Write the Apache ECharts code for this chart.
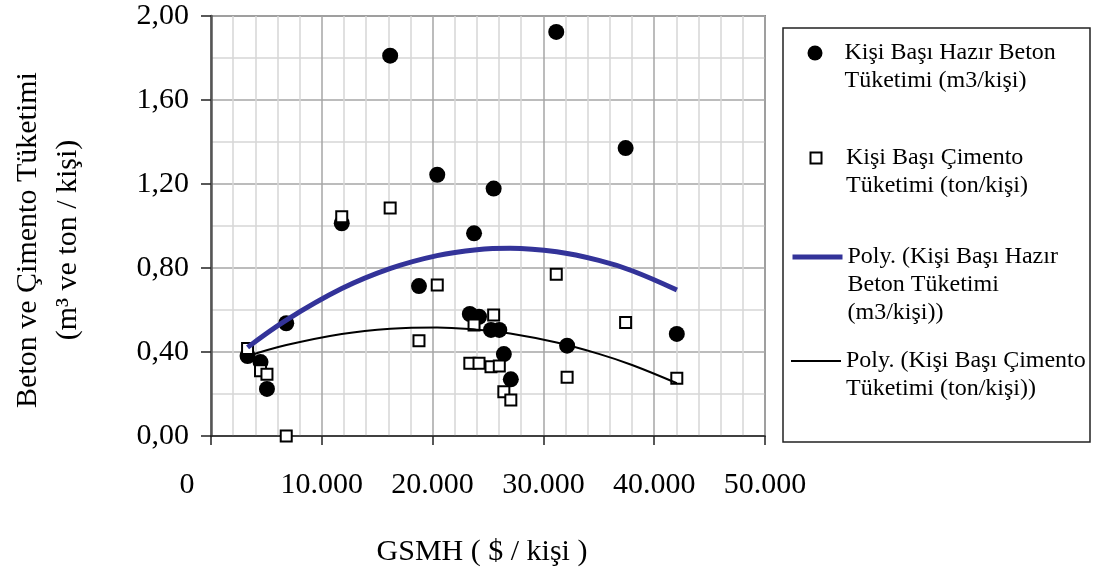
<!DOCTYPE html>
<html>
<head>
<meta charset="utf-8">
<script src="https://cdn.jsdelivr.net/npm/echarts@6/dist/echarts.min.js"></script>
<style>
  html, body { margin: 0; padding: 0; background: #fff; }
  #chart { width: 1094px; height: 572px; }
</style>
</head>
<body>
<div id="chart"></div>
<script>
  // GSMH ($/kişi) of each country
  const gdpPerCapita = [3300, 4470, 5050, 6790, 11800, 16170, 18770, 20420, 23360, 23740, 24190, 25270, 25510, 26020, 26430, 27060, 31160, 32140, 37420, 42040];
  // Hazır beton (m3/kişi)
  const concrete = [0.381, 0.352, 0.224, 0.537, 1.013, 1.811, 0.714, 1.244, 0.581, 0.965, 0.568, 0.505, 1.178, 0.505, 0.39, 0.27, 1.924, 0.43, 1.371, 0.486];
  // Çimento (ton/kişi)
  const cement = [0.417, 0.311, 0.294, 0.0, 1.044, 1.086, 0.454, 0.719, 0.346, 0.529, 0.346, 0.33, 0.576, 0.333, 0.211, 0.171, 0.77, 0.28, 0.54, 0.275];

  // polynomial trend lines
  const trendX = [3300, 6800, 11800, 16200, 20400, 24000, 27000, 31200, 35000, 38000, 42050];
  const concreteTrend = [0.422, 0.552, 0.702, 0.798, 0.859, 0.887, 0.894, 0.877, 0.836, 0.787, 0.695];
  const cementTrend = [0.380, 0.433, 0.486, 0.511, 0.517, 0.506, 0.488, 0.445, 0.391, 0.338, 0.251];

  const names = [
    'Kişi Başı Hazır Beton Tüketimi (m3/kişi)',
    'Kişi Başı Çimento Tüketimi (ton/kişi)',
    'Poly. (Kişi Başı Hazır Beton Tüketimi (m3/kişi))',
    'Poly. (Kişi Başı Çimento Tüketimi (ton/kişi))'
  ];
  const legendLines = [
    'Kişi Başı Hazır Beton\nTüketimi (m3/kişi)',
    'Kişi Başı Çimento\nTüketimi (ton/kişi)',
    'Poly. (Kişi Başı Hazır\nBeton Tüketimi\n(m3/kişi))',
    'Poly. (Kişi Başı Çimento\nTüketimi (ton/kişi))'
  ];

  const font = 'Liberation Serif';
  const zip = (xs, ys) => xs.map((x, i) => [x, ys[i]]);

  // one legend per entry so each can sit where it does in the picture;
  // blank lines on top keep the icon level with the first text line
  function legendFor(i, opts) {
    const lines = legendLines[i].split('\n').length;
    const pad = new Array(lines - 1).fill(' ').join('\n');
    return Object.assign({
      data: [names[i]],
      orient: 'vertical',
      selectedMode: false,
      padding: 0,
      formatter: () => (pad ? pad + '\n' : '') + legendLines[i],
      textStyle: {
        fontFamily: font,
        fontSize: 24,
        lineHeight: 28,
        color: '#000',
        padding: [0, 0, 0, opts.textPad || 0]
      }
    }, opts.base);
  }

  const chart = echarts.init(document.getElementById('chart'));
  const option = {
    backgroundColor: '#fff',
    animation: false,
    textStyle: { fontFamily: font },
    grid: {
      left: 209, right: 329, top: 16, bottom: 136,
      show: true, borderColor: '#8c8c8c', borderWidth: 2
    },
    graphic: [{
      type: 'rect',
      shape: { x: 783, y: 28, width: 307, height: 414 },
      style: { fill: 'none', stroke: '#222', lineWidth: 1.5 },
      silent: true
    }],
    legend: [
      legendFor(0, { base: { left: 807.5, top: 11, itemWidth: 15, itemHeight: 15 }, textPad: 17 }),
      legendFor(1, { base: { left: 809.5, top: 116, itemWidth: 11, itemHeight: 11 }, textPad: 19.5 }),
      legendFor(2, { base: { left: 790, top: 187, itemWidth: 50, itemHeight: 14, itemStyle: { opacity: 0 }, lineStyle: { width: 5 } } }),
      legendFor(3, { base: { left: 790, top: 319, itemWidth: 50, itemHeight: 14, itemStyle: { opacity: 0 }, lineStyle: { width: 2 } } })
    ],
    xAxis: {
      type: 'value',
      min: 0, max: 50000, interval: 10000,
      name: 'GSMH ( $ / kişi )',
      nameLocation: 'middle',
      nameGap: 101,
      nameTextStyle: { fontFamily: font, fontSize: 30, color: '#000', padding: [0, 12, 0, 0] },
      axisLine: { show: true, onZero: false, lineStyle: { color: '#222', width: 1.5 } },
      axisTick: { show: true, length: 9, lineStyle: { color: '#222', width: 1.5 } },
      axisLabel: {
        margin: 34,
        fontFamily: font, fontSize: 30, color: '#000',
        formatter: v => v === 0 ? '{zero|0}' : v.toLocaleString('de-DE'),
        rich: { zero: { fontFamily: font, fontSize: 30, color: '#000', padding: [0, 48, 0, 0] } }
      },
      splitLine: { show: true, lineStyle: { color: '#a6a6a6', width: 1.5 } },
      minorTick: { show: false, splitNumber: 5 },
      minorSplitLine: { show: true, lineStyle: { color: '#d6d6d6', width: 1.5 } }
    },
    yAxis: {
      type: 'value',
      min: 0, max: 2, interval: 0.4,
      name: 'Beton ve Çimento Tüketimi\n(m³ ve ton / kişi)',
      nameLocation: 'middle',
      nameGap: 123,
      nameTextStyle: { fontFamily: font, fontSize: 30, lineHeight: 40, color: '#000', padding: [0, 28, 0, 0] },
      axisLine: { show: true, onZero: false, lineStyle: { color: '#555', width: 2.5 } },
      axisTick: { show: true, length: 10, lineStyle: { color: '#222', width: 1.5 } },
      axisLabel: {
        margin: 22,
        fontFamily: font, fontSize: 30, color: '#000',
        formatter: v => v.toFixed(2).replace('.', ',')
      },
      splitLine: { show: true, lineStyle: { color: '#a6a6a6', width: 1.5 } },
      minorTick: { show: false, splitNumber: 2 },
      minorSplitLine: { show: true, lineStyle: { color: '#d6d6d6', width: 1.5 } }
    },
    series: [
      {
        name: names[0],
        type: 'scatter',
        symbol: 'circle',
        symbolSize: 16,
        itemStyle: { color: '#000', opacity: 1 },
        data: zip(gdpPerCapita, concrete),
        z: 2
      },
      {
        name: names[1],
        type: 'scatter',
        symbol: 'rect',
        symbolSize: 11,
        itemStyle: { color: '#fff', borderColor: '#000', borderWidth: 2, opacity: 1 },
        data: zip(gdpPerCapita, cement),
        z: 3
      },
      {
        name: names[2],
        type: 'line',
        smooth: 0.4,
        symbol: 'none',
        lineStyle: { color: '#333399', width: 5 },
        itemStyle: { color: '#333399' },
        data: zip(trendX, concreteTrend),
        z: 4
      },
      {
        name: names[3],
        type: 'line',
        smooth: 0.4,
        symbol: 'none',
        lineStyle: { color: '#000', width: 2 },
        itemStyle: { color: '#000' },
        data: zip(trendX, cementTrend),
        z: 4
      }
    ]
  };
  chart.setOption(option);

  window.addEventListener('resize', function() {
    chart.resize();
  });
</script>
</body>
</html>
